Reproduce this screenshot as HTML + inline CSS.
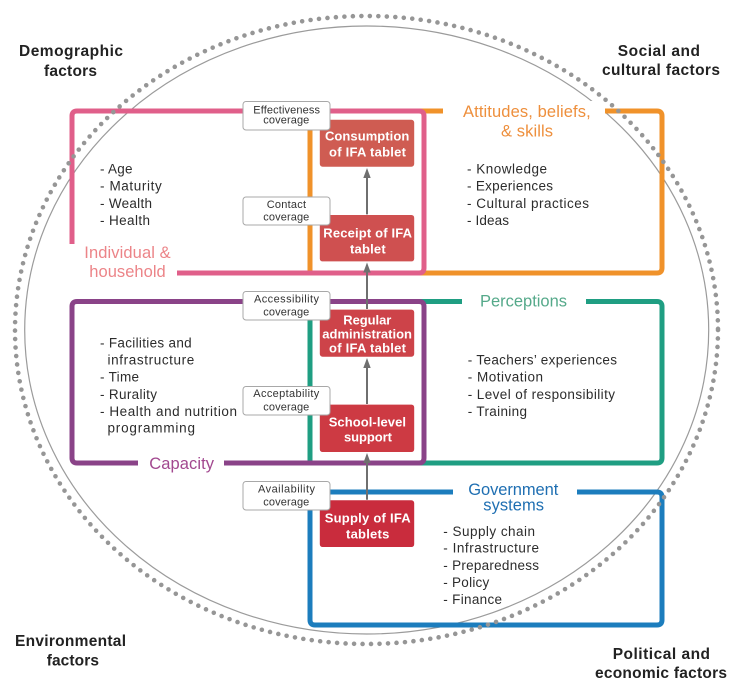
<!DOCTYPE html>
<html lang="en">
<head>
<meta charset="utf-8">
<title>IFA tablet coverage framework</title>
<style>
html,body{margin:0;padding:0;background:#fff}
svg{display:block}
text{font-family:"Liberation Sans",sans-serif}
.c{font-size:15.5px;font-weight:700;fill:#222}
.b{font-size:13.5px;fill:#2c2c2c}
.h{font-size:16.5px}
.w{font-size:13px;font-weight:700;fill:#fff}
.l{font-size:11px;fill:#333}
.f{fill:none;stroke-width:5;stroke-linecap:butt}
.r{stroke:#fff;stroke-width:.6}
.t{fill:#fff;stroke:#a8a8a8;stroke-width:1}
</style>
</head>
<body>
<svg width="736" height="688" viewBox="0 0 736 688" xmlns="http://www.w3.org/2000/svg">
<rect width="736" height="688" fill="#fff"/>

<ellipse cx="366.7" cy="330" rx="342" ry="304" fill="none" stroke="#9b9b9b" stroke-width="1.2"/>
<rect x="426" y="101" width="180" height="50" fill="#fff"/>

<!-- back frames -->
<path class="f" stroke="#f0922a" d="M443,111H310V273H424M605,111H657Q662,111 662,116V268Q662,273 657,273H424"/>
<path class="f" stroke="#1f9e82" d="M462,301.5H310V463H424M586,301.5H657Q662,301.5 662,306.5V458Q662,463 657,463H424"/>
<path class="f" stroke="#1c7dbd" d="M453,492H310V620Q310,625 315,625H657Q662,625 662,620V497Q662,492 657,492H577"/>
<!-- front frames -->
<path class="f" stroke="#e05f8a" d="M72,244V116Q72,111 77,111H419Q424,111 424,116V268Q424,273 419,273H177"/>
<path class="f" stroke="#8a4388" d="M138,463H77Q72,463 72,458V306.5Q72,301.5 77,301.5H419Q424,301.5 424,306.5V458Q424,463 419,463H224"/>

<ellipse cx="366.5" cy="330" rx="351.5" ry="314" fill="none" stroke="#969696" stroke-width="4.6" stroke-linecap="round" stroke-dasharray="0 8.5"/>

<!-- arrows -->
<g stroke="#6f6f6f" stroke-width="2" fill="none">
<path d="M367,178V215M367,272V310M367,368V405M367,463V500"/>
</g>
<g fill="#6f6f6f">
<path d="M367,168L370.7,178H363.3Z"/>
<path d="M367,262.5L370.7,272.5H363.3Z"/>
<path d="M367,358L370.7,368H363.3Z"/>
<path d="M367,453L370.7,463H363.3Z"/>
</g>

<!-- red boxes -->
<rect class="r" x="319.5" y="119.5" width="95" height="47.5" rx="3" fill="#cf5c52"/>
<rect class="r" x="319.5" y="214.7" width="95" height="47" rx="3" fill="#cf5050"/>
<rect class="r" x="319.5" y="309.3" width="95" height="47.7" rx="3" fill="#cd4349"/>
<rect class="r" x="319.5" y="404.3" width="95" height="48" rx="3" fill="#cd3a43"/>
<rect class="r" x="319.5" y="500" width="95" height="47.3" rx="3" fill="#c92c3d"/>

<text class="w" x="325" y="140.7" textLength="84.3">Consumption</text>
<text class="w" x="329" y="156.7" textLength="77">of IFA tablet</text>
<text class="w" x="323.3" y="237.3" textLength="88.7">Receipt of IFA</text>
<text class="w" x="350" y="253.3" textLength="35.7">tablet</text>
<text class="w" x="343.3" y="324.3" textLength="48">Regular</text>
<text class="w" x="322.3" y="338.3" textLength="89.7">administration</text>
<text class="w" x="329" y="352.3" textLength="77">of IFA tablet</text>
<text class="w" x="328.7" y="426.7" textLength="77.3">School-level</text>
<text class="w" x="344" y="441.7" textLength="48">support</text>
<text class="w" x="324.7" y="522.3" textLength="86">Supply of IFA</text>
<text class="w" x="346" y="538.3" textLength="43.3">tablets</text>

<!-- coverage tags -->
<rect class="t" x="243" y="101.5" width="87" height="28.5" rx="3"/>
<rect class="t" x="243" y="197" width="87" height="28" rx="3"/>
<rect class="t" x="243" y="291.5" width="87" height="28.5" rx="3"/>
<rect class="t" x="243" y="386.5" width="87" height="28.5" rx="3"/>
<rect class="t" x="243" y="481.5" width="87" height="28.5" rx="3"/>

<text class="l" x="253.3" y="113.3" textLength="66.7">Effectiveness</text>
<text class="l" x="263.3" y="123.5" textLength="46">coverage</text>
<text class="l" x="266.7" y="208" textLength="39.3">Contact</text>
<text class="l" x="263.3" y="220.7" textLength="46">coverage</text>
<text class="l" x="254" y="302.3" textLength="65">Accessibility</text>
<text class="l" x="263.3" y="315.7" textLength="46">coverage</text>
<text class="l" x="253.3" y="397" textLength="66">Acceptability</text>
<text class="l" x="263.3" y="410.7" textLength="46">coverage</text>
<text class="l" x="258" y="492.7" textLength="57">Availability</text>
<text class="l" x="263.3" y="505.3" textLength="46">coverage</text>

<!-- corner labels -->
<text class="c" x="19" y="56" textLength="104">Demographic</text>
<text class="c" x="44" y="76" textLength="53">factors</text>
<text class="c" x="617.7" y="56" textLength="82.3">Social and</text>
<text class="c" x="602" y="75" textLength="118">cultural factors</text>
<text class="c" x="15" y="646" textLength="111">Environmental</text>
<text class="c" x="46.7" y="665.7" textLength="52.3">factors</text>
<text class="c" x="612.7" y="659" textLength="97.3">Political and</text>
<text class="c" x="595" y="678" textLength="132">economic factors</text>

<!-- coloured headings -->
<text class="h" fill="#ee8f3c" x="463" y="117" textLength="127.7">Attitudes, beliefs,</text>
<text class="h" fill="#ee8f3c" x="501" y="136.7" textLength="52">&amp; skills</text>
<text class="h" fill="#ec8488" x="84.3" y="258" textLength="86.4">Individual &amp;</text>
<text class="h" fill="#ec8488" x="89.3" y="277" textLength="76.4">household</text>
<text class="h" fill="#a2488f" x="149.3" y="469" textLength="64.7">Capacity</text>
<text class="h" fill="#55a98a" x="480" y="306.7" textLength="87">Perceptions</text>
<text class="h" fill="#1f6fb2" x="468.3" y="495" textLength="90">Government</text>
<text class="h" fill="#1f6fb2" x="483.3" y="510.7" textLength="60.7">systems</text>

<!-- lists -->
<text class="b" x="100" y="173.5" textLength="32.5">- Age</text>
<text class="b" x="100" y="190.7" textLength="61.7">- Maturity</text>
<text class="b" x="100" y="207.9" textLength="52">- Wealth</text>
<text class="b" x="100" y="225" textLength="50">- Health</text>

<text class="b" x="100" y="347.3" textLength="91.7">- Facilities and</text>
<text class="b" x="107.5" y="364.3" textLength="86.8">infrastructure</text>
<text class="b" x="100" y="381.7" textLength="39">- Time</text>
<text class="b" x="100" y="399" textLength="57">- Rurality</text>
<text class="b" x="100" y="416" textLength="137">- Health and nutrition</text>
<text class="b" x="107.5" y="432.7" textLength="87.5">programming</text>

<text class="b" x="467" y="173.5" textLength="80">- Knowledge</text>
<text class="b" x="467" y="190.7" textLength="86">- Experiences</text>
<text class="b" x="467" y="207.9" textLength="122">- Cultural practices</text>
<text class="b" x="467" y="225" textLength="42">- Ideas</text>

<text class="b" x="467.7" y="364.7" textLength="149.3">- Teachers’ experiences</text>
<text class="b" x="467.7" y="381.7" textLength="75.3">- Motivation</text>
<text class="b" x="467.7" y="399" textLength="147.3">- Level of responsibility</text>
<text class="b" x="467.7" y="416" textLength="59.3">- Training</text>

<text class="b" x="443.3" y="536" textLength="91.7">- Supply chain</text>
<text class="b" x="443.3" y="552.7" textLength="95.7">- Infrastructure</text>
<text class="b" x="443.3" y="570" textLength="95.7">- Preparedness</text>
<text class="b" x="443.3" y="587" textLength="46">- Policy</text>
<text class="b" x="443.3" y="604" textLength="58.7">- Finance</text>
</svg>
</body>
</html>
